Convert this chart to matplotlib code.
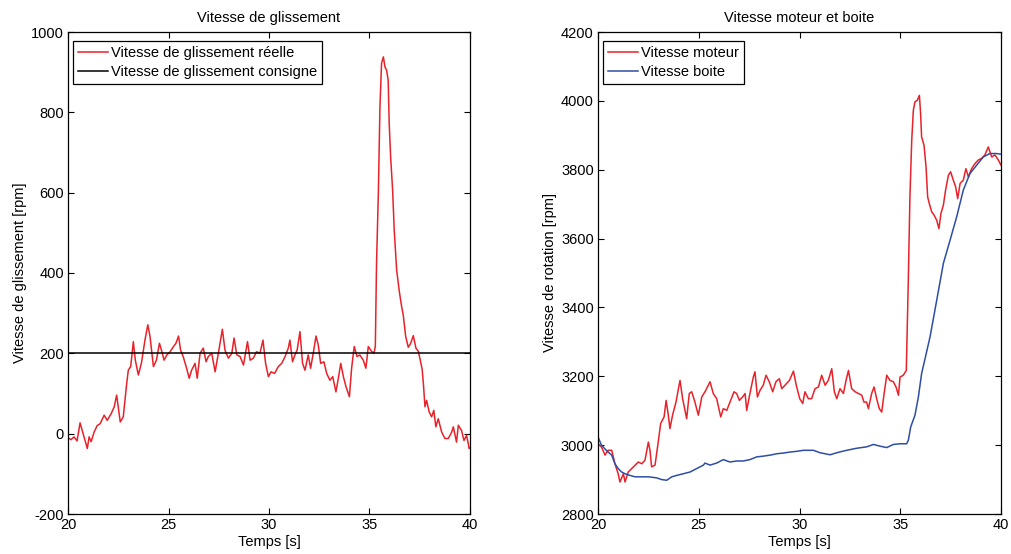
import matplotlib
matplotlib.use("Agg")
import matplotlib.pyplot as plt

plt.rcParams['font.family'] = ['Liberation Sans', 'DejaVu Sans']
plt.rcParams['axes.unicode_minus'] = False

# ---- Left: slip speed ----
slip_t = [20.0, 20.15, 20.3, 20.45, 20.6, 20.75, 20.96, 21.05, 21.15, 21.3, 21.45, 21.6, 21.8, 21.95,
          22.15, 22.3, 22.42, 22.6, 22.75, 22.92, 23.0, 23.12, 23.25, 23.35, 23.5, 23.65, 23.83, 23.97,
          24.08, 24.25, 24.4, 24.55, 24.65, 24.78, 24.92, 25.08, 25.25, 25.37, 25.5, 25.6, 25.73, 25.9,
          26.03, 26.15, 26.32, 26.43, 26.57, 26.73, 26.87, 26.98, 27.15, 27.32, 27.48, 27.68, 27.81,
          27.98, 28.15, 28.26, 28.4, 28.56, 28.73, 28.93, 29.06, 29.22, 29.38, 29.55, 29.7, 29.83, 29.97,
          30.1, 30.28, 30.46, 30.63, 30.8, 30.96, 31.04, 31.17, 31.29, 31.4, 31.54, 31.67, 31.79, 31.95,
          32.07, 32.2, 32.34, 32.45, 32.57, 32.73, 32.87, 33.03, 33.17, 33.33, 33.45, 33.57, 33.7, 33.83,
          34.0, 34.11, 34.24, 34.38, 34.52, 34.69, 34.82, 34.94, 35.1, 35.22, 35.29, 35.35, 35.44, 35.52,
          35.6, 35.69, 35.77, 35.85, 35.93, 35.98, 36.05, 36.15, 36.23, 36.35, 36.48, 36.6, 36.68, 36.8,
          36.93, 37.05, 37.18, 37.31, 37.43, 37.54, 37.62, 37.68, 37.76, 37.84, 37.97, 38.09, 38.2, 38.3,
          38.42, 38.59, 38.75, 38.92, 39.09, 39.17, 39.33, 39.42, 39.58, 39.7, 39.83, 39.96, 40.0]
slip_real = [-10, -15, -8, -18, 27, 0, -37, -8, -20, 4, 20, 25, 46, 33,
             50, 67, 96, 29, 42, 125, 158, 167, 229, 183, 146, 175, 233, 271,
             242, 167, 183, 225, 208, 183, 196, 204, 217, 225, 243, 208, 192, 163,
             138, 158, 175, 138, 200, 213, 179, 192, 200, 154, 200, 260, 208,
             188, 200, 238, 196, 192, 171, 229, 183, 188, 204, 200, 233, 175, 142,
             154, 150, 167, 175, 192, 213, 233, 179, 196, 208, 254, 175, 158, 196,
             163, 200, 243, 221, 175, 179, 150, 133, 142, 104, 138, 175, 142, 117,
             92, 163, 217, 192, 196, 183, 163, 217, 205, 200, 217, 424, 598, 814,
             922, 938, 913, 905, 880, 773, 690, 607, 507, 408, 355, 316, 295, 242,
             215, 225, 244, 213, 205, 180, 160, 125, 67, 83, 54, 42, 58, 17,
             37, 4, -12, -12, 4, 17, -21, 21, 8, -17, -4, -37, -35]
slip_setpoint = 200

# ---- Right: engine and gearbox speed ----
motor_t = [20.0, 20.17, 20.35, 20.5, 20.68, 20.84, 21.0, 21.09, 21.26, 21.34, 21.5, 21.67, 21.84, 22.0,
           22.17, 22.33, 22.5, 22.58, 22.66, 22.83, 23.0, 23.11, 23.28, 23.38, 23.49, 23.57, 23.7, 23.87,
           24.07, 24.2, 24.4, 24.53, 24.65, 24.81, 24.98, 25.15, 25.31, 25.56, 25.72, 25.89, 26.09, 26.22,
           26.39, 26.55, 26.75, 26.88, 27.02, 27.18, 27.3, 27.38, 27.54, 27.71, 27.79, 27.91, 28.04, 28.2,
           28.34, 28.5, 28.67, 28.83, 29.0, 29.12, 29.28, 29.5, 29.7, 29.84, 30.01, 30.16, 30.27, 30.44,
           30.6, 30.77, 30.94, 31.1, 31.27, 31.43, 31.6, 31.73, 31.85, 32.01, 32.18, 32.31, 32.43, 32.59,
           32.76, 32.92, 33.09, 33.2, 33.33, 33.42, 33.58, 33.7, 33.83, 33.96, 34.08, 34.2, 34.33, 34.49,
           34.66, 34.79, 34.91, 34.99, 35.15, 35.3, 35.4, 35.48, 35.57, 35.65, 35.73, 35.85, 35.95, 36.01,
           36.06, 36.18, 36.28, 36.36, 36.44, 36.56, 36.68, 36.81, 36.92, 37.02, 37.14, 37.25, 37.39, 37.5,
           37.63, 37.75, 37.85, 37.97, 38.13, 38.26, 38.38, 38.54, 38.71, 38.87, 39.04, 39.2, 39.37, 39.54,
           39.7, 39.87, 40.0]
motor_speed = [3004, 2995, 2971, 2985, 2985, 2946, 2917, 2893, 2917, 2893, 2922, 2932, 2942, 2951,
               2946, 2956, 3009, 2985, 2937, 2942, 3014, 3063, 3082, 3130, 3087, 3048, 3087, 3125,
               3188, 3135, 3077, 3150, 3155, 3125, 3087, 3140, 3155, 3184, 3150, 3135, 3082, 3106,
               3101, 3125, 3155, 3150, 3130, 3140, 3150, 3101, 3150, 3198, 3213, 3140, 3159, 3174,
               3203, 3184, 3155, 3184, 3193, 3164, 3174, 3188, 3215, 3174, 3135, 3121, 3155, 3135,
               3135, 3164, 3169, 3203, 3174, 3188, 3222, 3155, 3135, 3164, 3150, 3188, 3217, 3164,
               3155, 3150, 3145, 3125, 3125, 3106, 3150, 3169, 3135, 3106, 3096, 3150, 3203, 3188,
               3184, 3169, 3145, 3198, 3203, 3217, 3479, 3721, 3886, 3973, 3997, 4002, 4016, 3963,
               3895, 3871, 3808, 3721, 3702, 3678, 3668, 3653, 3629, 3673, 3697, 3741, 3784, 3794,
               3770, 3750, 3716, 3760, 3770, 3803, 3779, 3803, 3818, 3828, 3833, 3843, 3866, 3837,
               3843, 3828, 3813]

box_t = [20.0, 20.17, 20.33, 20.5, 20.68, 20.84, 21.0, 21.17, 21.34, 21.59, 21.84, 22.08, 22.5, 22.91,
         23.16, 23.41, 23.66, 23.9, 24.24, 24.57, 24.9, 25.23, 25.31, 25.56, 25.89, 26.22, 26.55, 26.88,
         27.21, 27.54, 27.88, 28.2, 28.54, 28.87, 29.2, 29.53, 29.86, 30.19, 30.69, 31.02, 31.52, 31.85,
         32.34, 32.84, 33.33, 33.67, 34.0, 34.33, 34.66, 34.99, 35.32, 35.4, 35.52, 35.73, 35.9, 36.06,
         36.23, 36.48, 36.81, 37.14, 37.47, 37.8, 38.13, 38.46, 38.79, 39.12, 39.45, 39.78, 40.0]
box_speed = [3024, 3000, 2990, 2980, 2971, 2946, 2932, 2922, 2917, 2912, 2908, 2908, 2908, 2905,
             2900, 2898, 2908, 2912, 2917, 2922, 2932, 2942, 2948, 2942, 2948, 2958, 2951, 2954,
             2954, 2958, 2966, 2968, 2971, 2975, 2977, 2980, 2982, 2985, 2985, 2978, 2972, 2978,
             2985, 2991, 2995, 3002, 2997, 2993, 3002, 3004, 3004, 3014, 3053, 3087, 3140, 3208,
             3251, 3315, 3421, 3528, 3595, 3663, 3741, 3789, 3813, 3837, 3847, 3847, 3845]

x_ticks = [20, 25, 30, 35, 40]
left_yticks = [-200, 0, 200, 400, 600, 800, 1000]
right_yticks = [2800, 3000, 3200, 3400, 3600, 3800, 4000, 4200]

RED = '#e8222a'
BLUE = '#2e4ea6'
FS = 10.5

fig = plt.figure(figsize=(10.12, 5.54), dpi=100)
ax1 = fig.add_axes([68/1012, 40/554, 402/1012, 482/554])
ax2 = fig.add_axes([598/1012, 40/554, 403/1012, 482/554])

ax1.plot(slip_t, slip_real, color=RED, lw=1.1, label='Vitesse de glissement réelle')
ax1.plot([x_ticks[0], x_ticks[-1]], [slip_setpoint, slip_setpoint], color='black', lw=1.1,
         label='Vitesse de glissement consigne')
ax1.set_xlim(20, 40)
ax1.set_ylim(-200, 1000)
ax1.set_yticks(left_yticks)
ax1.set_title('Vitesse de glissement', fontsize=FS, pad=7)
ax1.set_xlabel('Temps [s]', fontsize=FS, labelpad=2)
ax1.set_ylabel('Vitesse de glissement [rpm]', fontsize=FS, labelpad=3)

ax2.plot(motor_t, motor_speed, color=RED, lw=1.1, label='Vitesse moteur')
ax2.plot(box_t, box_speed, color=BLUE, lw=1.1, label='Vitesse boite')
ax2.set_xlim(20, 40)
ax2.set_ylim(2800, 4200)
ax2.set_yticks(right_yticks)
ax2.set_title('Vitesse moteur et boite', fontsize=FS, pad=7)
ax2.set_xlabel('Temps [s]', fontsize=FS, labelpad=2)
ax2.set_ylabel('Vitesse de rotation [rpm]', fontsize=FS, labelpad=3)

for ax in (ax1, ax2):
    ax.set_xticks(x_ticks)
    ax.tick_params(direction='in', top=True, right=True, labelsize=FS, length=4, width=0.8, pad=3)
    for s in ax.spines.values():
        s.set_linewidth(0.9)
    leg = ax.legend(loc='upper left', bbox_to_anchor=(0.012, 0.982), borderaxespad=0,
                    fontsize=FS, fancybox=False, framealpha=1,
                    edgecolor='black', handlelength=2.05, handletextpad=0.2,
                    borderpad=0.35, labelspacing=0.35)
    leg.get_frame().set_linewidth(0.9)

fig.savefig('out.png', dpi=100)
